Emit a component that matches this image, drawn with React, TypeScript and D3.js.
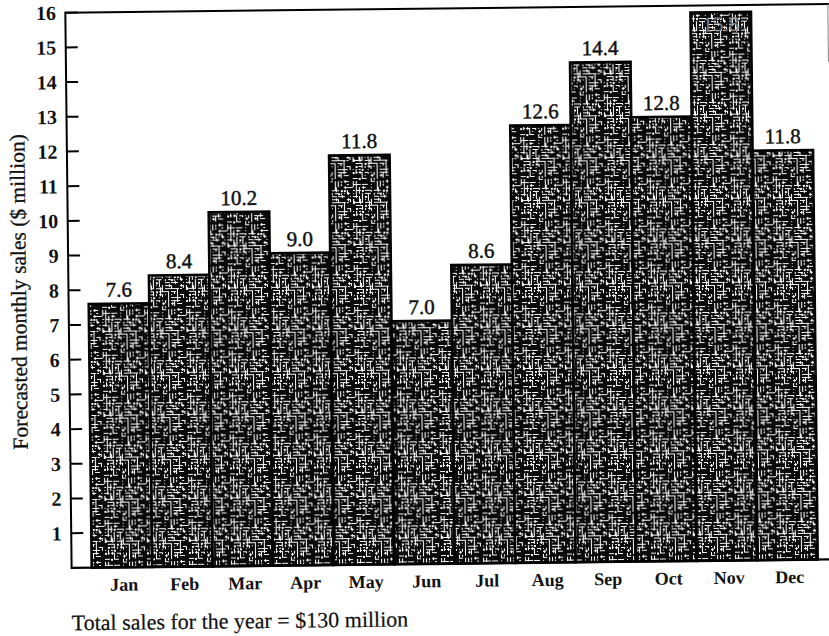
import React from "react";
import * as d3 from "d3";

// Forecasted monthly sales, $ million
const months = ["Jan", "Feb", "Mar", "Apr", "May", "Jun", "Jul", "Aug", "Sep", "Oct", "Nov", "Dec"];
const sales = [7.6, 8.4, 10.2, 9.0, 11.8, 7.0, 8.6, 12.6, 14.4, 12.8, 15.8, 11.8];
const yTicks = [1, 2, 3, 4, 5, 6, 7, 8, 9, 10, 11, 12, 13, 14, 15, 16];
const yTitle = "Forecasted monthly sales ($ million)";
const caption = "Total sales for the year = $130 million";

const W = 829;
const H = 636;
const axisX = 68.5;
const serif = "'Liberation Serif', 'DejaVu Serif', serif";

// Builds the speckled halftone tile: short white dashes and blots on a near-black
// ground, placed by a small integer hash so the tile looks irregular but is repeatable.
const TILE = 42;
function buildTile(): string {
  const parts: string[] = [];
  const hash = (a: number, b: number) => {
    let h = (a * 374761393 + b * 668265263) | 0;
    h = (h ^ (h >>> 13)) * 1274126177;
    return ((h ^ (h >>> 16)) >>> 0) % 1000;
  };
  for (let gy = 0; gy < TILE; gy += 3) {
    for (let gx = 0; gx < TILE; gx += 3) {
      const r = hash(gx + 1, gy + 7);
      const len = 2 + (hash(gy + 3, gx + 11) % 5);
      if (r < 250) {
        parts.push(`M${gx} ${gy + 0.5}h${Math.min(len, TILE - gx)}`);
      } else if (r < 480) {
        parts.push(`M${gx + 0.5} ${gy}v${Math.min(len, TILE - gy)}`);
      } else if (r < 600) {
        parts.push(`M${gx} ${gy + 0.5}h1`);
      } else if (r < 680) {
        parts.push(`M${gx} ${gy + 0.5}h3M${gx + 1.5} ${gy - 1}v3`);
      } else if (r < 720) {
        parts.push(`M${gx} ${gy + 0.5}h2M${gx} ${gy + 1.5}h2`);
      }
    }
  }
  return parts.join("");
}
const tilePath = buildTile();

const textWeight = { stroke: "#111", strokeWidth: 0.45 };

export default function App() {
  const x = d3.scaleBand<string>().domain(months).range([88.6, 814.6]).padding(0);
  const y = d3.scaleLinear().domain([0, 16]).range([563.7, 8.4]);
  const y0 = y(0);

  return (
    <svg
      width={W}
      height={H}
      viewBox={`0 0 ${W} ${H}`}
      style={{ position: "absolute", left: 0, top: 0, background: "#fff" }}
    >
      <defs>
        <pattern id="speckle" width={TILE} height={TILE} patternUnits="userSpaceOnUse">
          <rect width={TILE} height={TILE} fill="#0a0a0a" />
          <path d={tilePath} stroke="#f5f5f5" strokeWidth={1.1} fill="none" />
        </pattern>
      </defs>
      <g transform="rotate(-0.65 445 290)">
        {/* bars */}
        {months.map((m, i) => (
          <rect
            key={m}
            x={x(m)}
            y={y(sales[i])}
            width={x.bandwidth()}
            height={y0 - y(sales[i])}
            fill="url(#speckle)"
            stroke="#000"
            strokeWidth={2.6}
          />
        ))}

        {/* value labels */}
        {months.map((m, i) => {
          const cx = (x(m) as number) + x.bandwidth() / 2;
          const top = y(sales[i]);
          const inside = top < 30;
          return (
            <text
              key={m}
              x={cx}
              y={inside ? top + 19 : top - 7}
              textAnchor="middle"
              fontFamily={serif}
              fontSize={21}
              fill={inside ? "#7a7a7a" : "#111"}
              {...(inside ? {} : textWeight)}
            >
              {sales[i].toFixed(1)}
            </text>
          );
        })}

        {/* frame */}
        <line x1={axisX} x2={W + 10} y1={8.4} y2={8.4} stroke="#000" strokeWidth={2} />
        <line x1={axisX} x2={axisX} y1={7.4} y2={y0 + 1} stroke="#000" strokeWidth={2} />
        <line x1={axisX} x2={W + 10} y1={y0} y2={y0} stroke="#000" strokeWidth={2.2} />
        <line x1={831} x2={831} y1={8.4} y2={66} stroke="#888" strokeWidth={1} />

        {/* y ticks */}
        {yTicks.map((t) => (
          <g key={t}>
            <line x1={axisX} x2={axisX + 12} y1={y(t)} y2={y(t)} stroke="#000" strokeWidth={2} />
            <text
              x={59}
              y={y(t)}
              dy="0.35em"
              textAnchor="end"
              fontFamily={serif}
              fontWeight="bold"
              fontSize={20}
              fill="#111"
            >
              {t}
            </text>
          </g>
        ))}

        {/* month labels */}
        {months.map((m) => (
          <text
            key={m}
            x={(x(m) as number) + x.bandwidth() / 2 + 2}
            y={587}
            textAnchor="middle"
            fontFamily={serif}
            fontWeight="bold"
            fontSize={18}
            fill="#111"
          >
            {m}
          </text>
        ))}

        {/* y axis title */}
        <text
          transform="translate(26 287) rotate(-90)"
          textAnchor="middle"
          fontFamily={serif}
          fontSize={21.5}
          fill="#111"
          {...textWeight}
          strokeWidth={0.3}
        >
          {yTitle}
        </text>

        {/* footnote */}
        <text x={68} y={626} fontFamily={serif} fontSize={22} fill="#111" stroke="#111" strokeWidth={0.2}>
          {caption}
        </text>
      </g>
    </svg>
  );
}
